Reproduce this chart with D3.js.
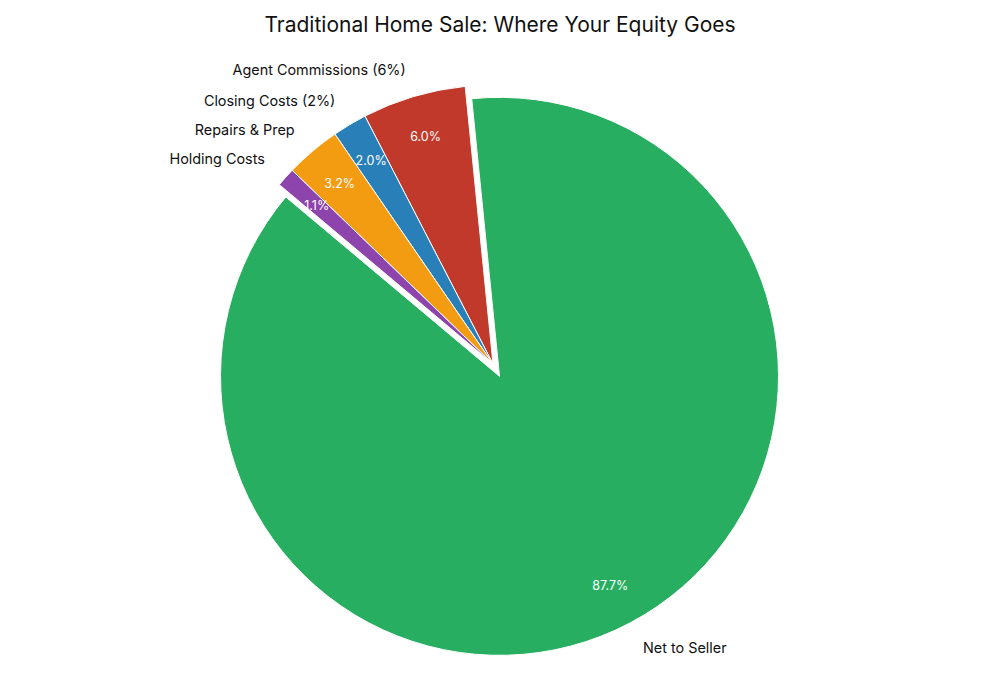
<!DOCTYPE html>
<html>
<head>
<meta charset="utf-8">
<script src="https://cdn.jsdelivr.net/npm/d3@7"></script>
<style>
  body { margin: 0; background: #fff; }
  text { font-family: "Inter", "Roboto", sans-serif; }
</style>
</head>
<body>
<svg id="chart" width="1000" height="700"></svg>
<script>
// data
var labels = ["Net to Seller", "Agent Commissions (6%)", "Closing Costs (2%)", "Repairs & Prep", "Holding Costs"];
var values = [87.7, 6.0, 2.0, 3.2, 1.1];

var colors  = ["#27ae60", "#c0392b", "#2980b9", "#f39c12", "#8e44ad"];
var explode = [0.05, 0, 0, 0, 0];

var svg = d3.select("#chart"),
    cx = 493, cy = 364, r = 279;

svg.append("text")
    .attr("x", 500)
    .attr("y", 24)
    .attr("text-anchor", "middle")
    .attr("dominant-baseline", "central")
    .style("font-size", "21px")
    .style("fill", "#111")
    .text("Traditional Home Sale: Where Your Equity Goes");

// matplotlib startangle 140, counterclockwise
var start = (90 - 140) * Math.PI / 180;

var pie = d3.pie()
    .sort(null)
    .startAngle(start)
    .endAngle(start - 2 * Math.PI);

var arcs = pie(values);
var total = d3.sum(values);

var arc = d3.arc().innerRadius(0).outerRadius(r);

var g = svg.append("g").attr("transform", `translate(${cx},${cy})`);

arcs.forEach(function(d, i) {
    var mid = (d.startAngle + d.endAngle) / 2;
    d.mid = mid;
    d.dx = Math.sin(mid) * explode[i] * r;
    d.dy = -Math.cos(mid) * explode[i] * r;
});

g.selectAll("path")
    .data(arcs)
  .enter().append("path")
    .attr("transform", d => `translate(${d.dx},${d.dy})`)
    .attr("d", arc)
    .attr("fill", (d, i) => colors[i])
    .attr("stroke", "#fff")
    .attr("stroke-width", 1);

// percent labels
g.selectAll(".pct")
    .data(arcs)
  .enter().append("text")
    .attr("class", "pct")
    .attr("x", d => d.dx + Math.sin(d.mid) * r * 0.85)
    .attr("y", d => d.dy - Math.cos(d.mid) * r * 0.85)
    .attr("text-anchor", "middle")
    .attr("dominant-baseline", "central")
    .style("font-size", "12.5px")
    .style("fill", "#fff")
    .text(d => d3.format(".1f")(d.value / total * 100) + "%");

// category labels
g.selectAll(".lbl")
    .data(arcs)
  .enter().append("text")
    .attr("class", "lbl")
    .attr("x", d => d.dx + Math.sin(d.mid) * r * 1.1)
    .attr("y", d => d.dy - Math.cos(d.mid) * r * 1.1)
    .attr("text-anchor", d => Math.sin(d.mid) < 0 ? "end" : "start")
    .attr("dominant-baseline", "central")
    .style("font-size", "14.4px")
    .style("fill", "#111")
    .text((d, i) => labels[i]);
</script>
</body>
</html>
